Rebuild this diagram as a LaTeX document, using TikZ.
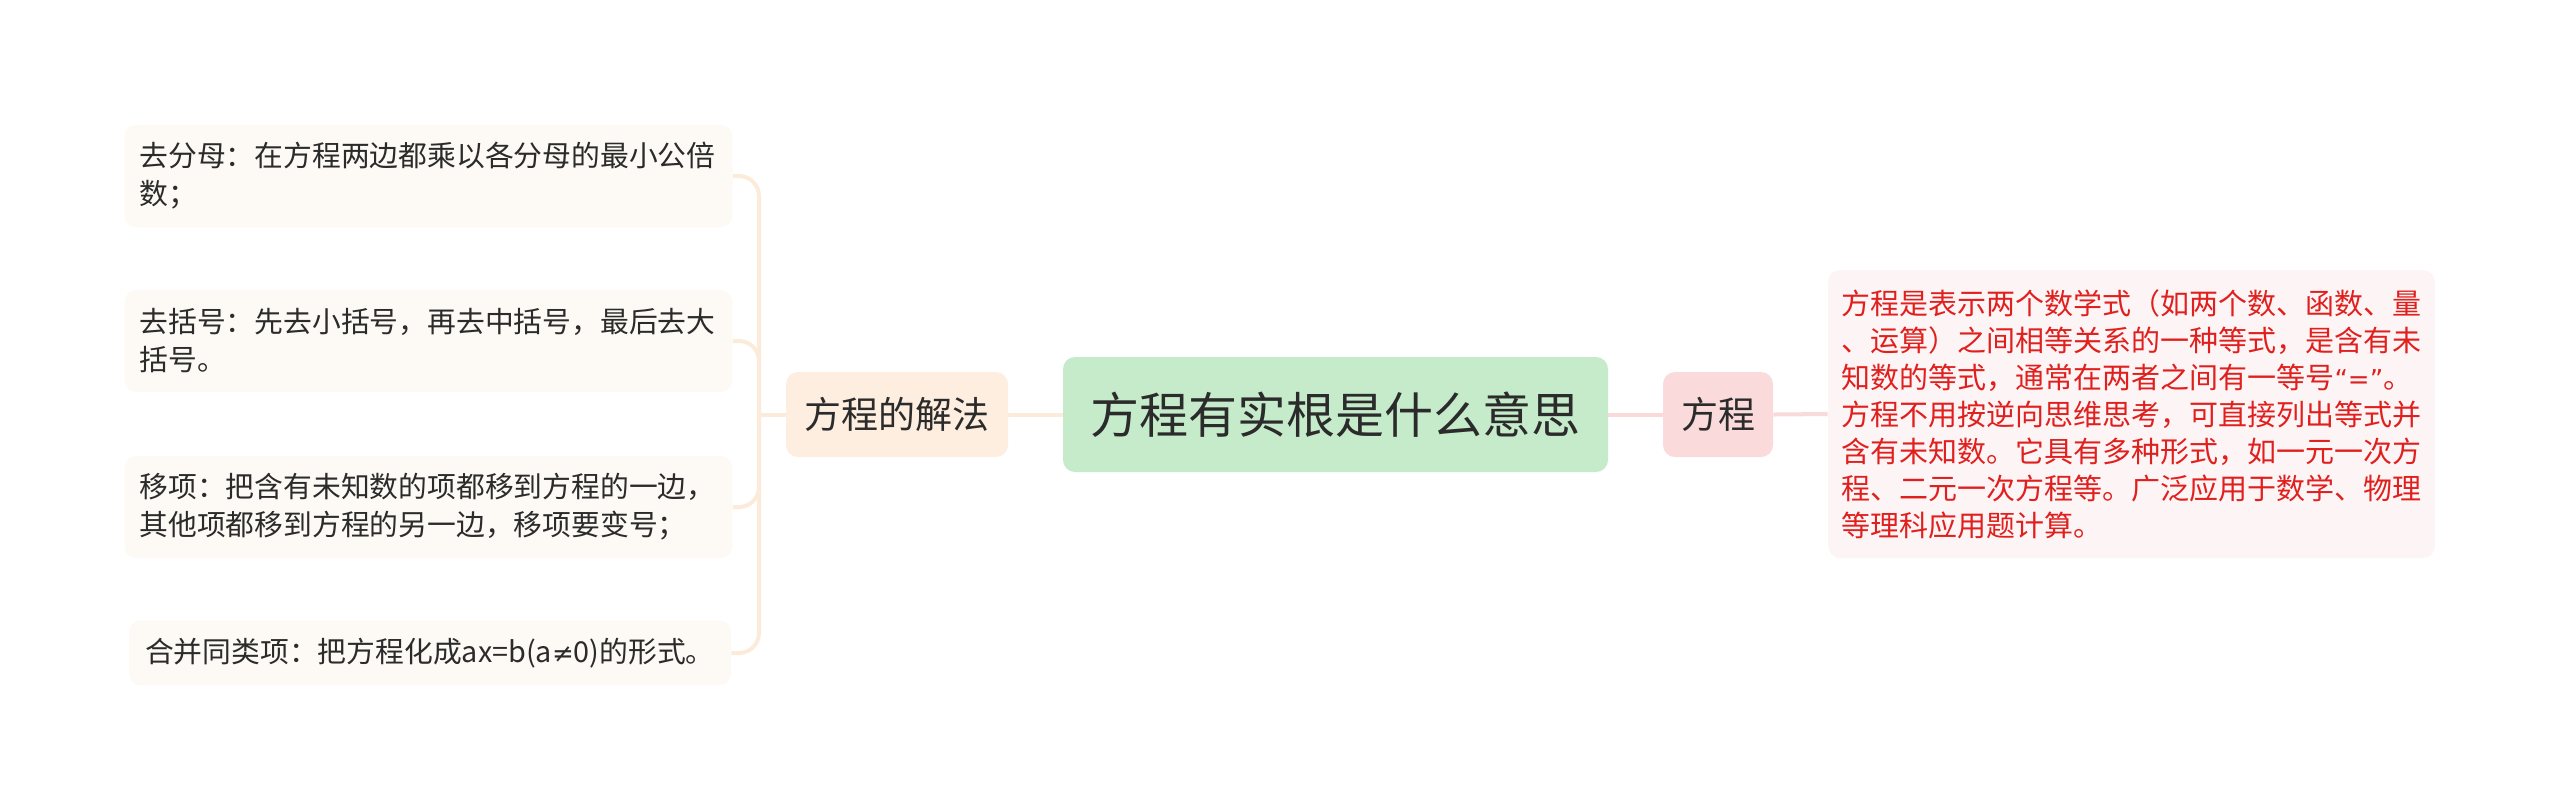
\documentclass[tikz,border=0pt]{standalone}
\usepackage{fontspec}
\setmainfont{Noto Sans CJK SC}
\newfontfamily\symfont{DejaVu Sans}
\definecolor{rootfill}{HTML}{C6EBCB}
\definecolor{midfill}{HTML}{FDEEDF}
\definecolor{leaffill}{HTML}{FDF9F4}
\definecolor{eqfill}{HTML}{FADADB}
\definecolor{descfill}{HTML}{FDF5F5}
\definecolor{leftline}{HTML}{FCEBDA}
\definecolor{rightline}{HTML}{F8DADB}
\definecolor{textdark}{HTML}{2B2B2B}
\definecolor{textred}{HTML}{E0201E}
\begin{document}
\begin{tikzpicture}[x=0.5pt,y=-0.5pt,
  base/.style={rectangle, rounded corners=6pt, inner sep=0pt, text=textdark},
  rootbox/.style={base, fill=rootfill, minimum width=272.5pt, minimum height=57.5pt, font=\fontsize{24.5}{30}\selectfont},
  midbox/.style={base, fill=midfill, minimum width=111pt, minimum height=42.5pt, font=\fontsize{18.5}{22}\selectfont},
  eqbox/.style={base, fill=eqfill, minimum width=55pt, minimum height=42.5pt, font=\fontsize{18.5}{22}\selectfont},
  leafbox/.style={base, fill=leaffill, align=left, text width=289pt, inner xsep=7.5pt, minimum height=51pt, font=\fontsize{14.4}{19}\selectfont},
  descbox/.style={base, fill=descfill, text=textred, align=left, text width=290pt, inner xsep=6.75pt, minimum height=144pt, font=\fontsize{14.5}{18.5}\selectfont},
  leftconn/.style={draw=leftline, line width=2pt},
  rightconn/.style={draw=rightline, line width=2pt}
]
\useasboundingbox (0,0) rectangle (2560,811);

\node[rootbox] (root) at (1335.5,414.5) {方程有实根是什么意思};
\node[midbox] (mid) at (897,414.5) {方程的解法};
\node[eqbox] (eq) at (1718,414.5) {方程};
\node[descbox] (desc) at (2131.5,414) {方程是表示两个数学式（如两个数、函数、量\\、运算）之间相等关系的一种等式，是含有未\\知数的等式，通常在两者之间有一等号{\symfont\fontsize{13}{18.5}\selectfont “=”}。\\方程不用按逆向思维思考，可直接列出等式并\\含有未知数。它具有多种形式，如一元一次方\\程、二元一次方程等。广泛应用于数学、物理\\等理科应用题计算。};

\node[leafbox] (l1) at (428.5,176) {去分母：在方程两边都乘以各分母的最小公倍\\数；};
\node[leafbox] (l2) at (428.5,341) {去括号：先去小括号，再去中括号，最后去大\\括号。};
\node[leafbox] (l3) at (428.5,507) {移项：把含有未知数的项都移到方程的一边，\\其他项都移到方程的另一边，移项要变号；};
\node[leafbox, text width=285pt, inner xsep=8pt, minimum height=32.5pt] (l4) at (430,653) {合并同类项：把方程化成ax=b(a{\symfont\fontsize{13}{19}\selectfont ≠}0)的形式。};

\coordinate (j) at (759,414.5);
\draw[leftconn] (root.west) -- (mid.east);
\draw[leftconn] (mid.west) -- (j);
\draw[leftconn, rounded corners=10pt] (j) |- (l1.east);
\draw[leftconn, rounded corners=10pt] (j) |- (l2.east);
\draw[leftconn, rounded corners=10pt] (j) |- (l3.east);
\draw[leftconn, rounded corners=10pt] (j) |- (l4.east);

\draw[rightconn] (root.east) -- (eq.west);
\draw[rightconn] (eq.east) -- (desc.west);
\end{tikzpicture}
\end{document}
